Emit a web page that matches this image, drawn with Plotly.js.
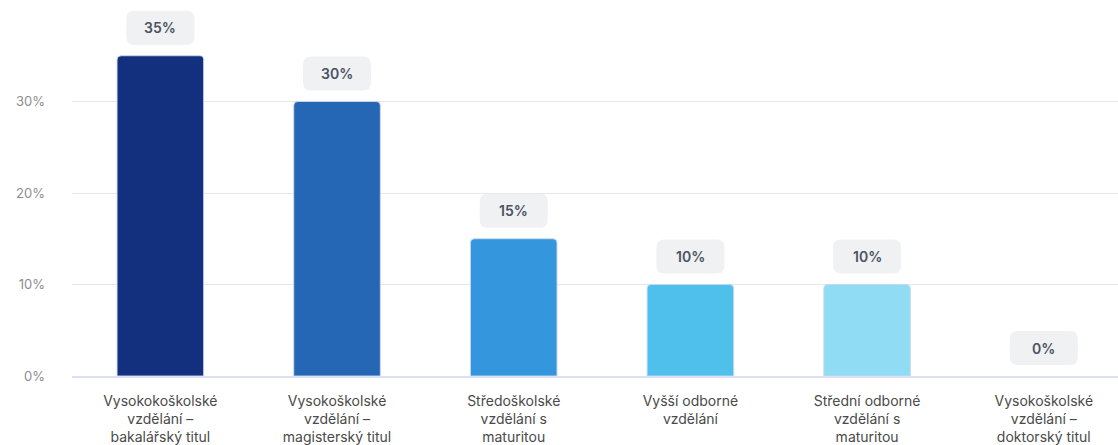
<!DOCTYPE html>
<html>
<head>
<meta charset="utf-8">
<script src="https://cdn.plot.ly/plotly-3.0.1.min.js"></script>
<style>html,body{margin:0;padding:0;background:#fff;}#chart{width:1118px;height:445px;}</style>
</head>
<body>
<div id="chart"></div>
<script>
const categories = [
  "Vysokokoškolské vzdělání – bakalářský titul",
  "Vysokoškolské vzdělání – magisterský titul",
  "Středoškolské vzdělání s maturitou",
  "Vyšší odborné vzdělání",
  "Střední odborné vzdělání s maturitou",
  "Vysokoškolské vzdělání – doktorský titul"
];
const tickLabels = [
  "Vysokokoškolské<br>vzdělání –<br>bakalářský titul",
  "Vysokoškolské<br>vzdělání –<br>magisterský titul",
  "Středoškolské<br>vzdělání s<br>maturitou",
  "Vyšší odborné<br>vzdělání",
  "Střední odborné<br>vzdělání s<br>maturitou",
  "Vysokoškolské<br>vzdělání –<br>doktorský titul"
];
const values = [35, 30, 15, 10, 10, 0];
const barColors = ["#13307f", "#2567b5", "#3497dd", "#4fc0ec", "#90dcf4", "#c8eefa"];
const yTicks = [0, 10, 20, 30];
const yTickLabels = ["0%", "10%", "20%", "30%"];

const font = "Inter, 'DejaVu Sans', sans-serif";

const trace = {
  type: "bar",
  x: categories,
  y: values,
  width: 0.49,
  marker: {
    color: barColors,
    cornerradius: 4,
    line: {color: "rgba(205,215,240,0.9)", width: values.map(v => v > 0 ? 1 : 0)}
  },
  hoverinfo: "none"
};

const boxPath = "M -26,11 L 26,11 Q 34,11 34,19 L 34,37 Q 34,45 26,45 L -26,45 Q -34,45 -34,37 L -34,19 Q -34,11 -26,11 Z";
const shapes = categories.map((c, i) => ({
  type: "path",
  xref: "x", yref: "y",
  xsizemode: "pixel", ysizemode: "pixel",
  xanchor: c, yanchor: values[i],
  path: boxPath,
  fillcolor: "#eff1f2",
  line: {width: 0},
  layer: "above"
}));
const annotations = categories.map((c, i) => ({
  x: c, y: values[i], xref: "x", yref: "y",
  text: values[i] + "%",
  showarrow: false,
  yanchor: "middle",
  yshift: 28,
  font: {family: font, size: 14, color: "#4b5262", weight: 600}
}));

const layout = {
  width: 1118, height: 445,
  margin: {l: 72, r: 0, t: 10, b: 69},
  paper_bgcolor: "#fff", plot_bgcolor: "#fff",
  showlegend: false,
  xaxis: {
    type: "category",
    range: [-0.5, 5.42],
    tickvals: categories,
    ticktext: tickLabels,
    tickangle: 0,
    showgrid: false,
    showline: true, linecolor: "#dbe1f0", linewidth: 2,
    ticks: "",
    ticklabelstandoff: 11,
    tickfont: {family: font, size: 14, color: "#4a4a4a"},
    fixedrange: true
  },
  yaxis: {
    range: [0, 40],
    tickvals: yTicks,
    ticktext: yTickLabels,
    showgrid: true, gridcolor: "#e5e7eb", gridwidth: 1,
    zeroline: false,
    showline: false,
    ticks: "",
    ticklabelstandoff: 26,
    tickfont: {family: font, size: 13, color: "#8d8d8d"},
    fixedrange: true
  },
  shapes: shapes,
  annotations: annotations
};

Plotly.newPlot("chart", [trace], layout, {displayModeBar: false, staticPlot: true});
</script>
</body>
</html>
